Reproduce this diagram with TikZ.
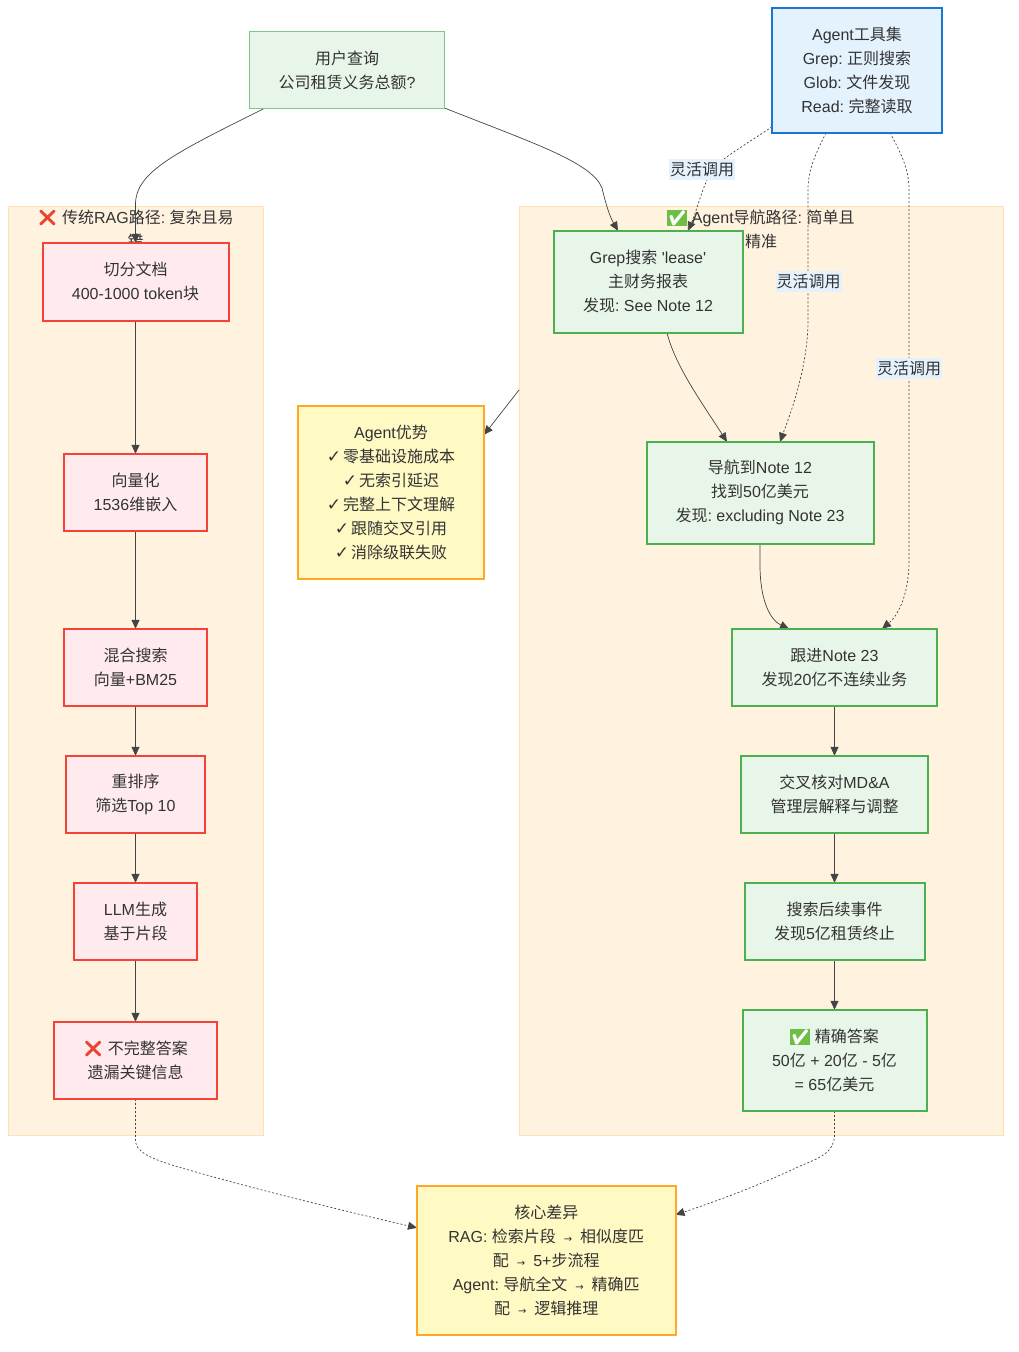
\documentclass[tikz,border=0pt]{standalone}
\usepackage{fontspec}
\usepackage{xcolor}
\setmainfont{Liberation Sans}
\newfontfamily\cjk{Noto Sans CJK SC}
\newfontfamily\emo{Noto Emoji}
\newfontfamily\djv{DejaVu Sans}
\usetikzlibrary{arrows.meta,calc}
\newcommand\cn[1]{{\cjk #1}}
\newcommand\ck{{\djv\fontsize{17}{24}\selectfont ✓\kern-2.5pt}}
\newcommand\arr{\kern3.5pt{\djv\fontsize{10}{24}\selectfont →}\kern3.5pt}
\definecolor{ink}{HTML}{333333}
\definecolor{edgeink}{HTML}{444444}
\definecolor{redmark}{HTML}{E8452F}
\definecolor{greenmark}{HTML}{6DBE45}
\newcommand\nomark{{\emo\color{redmark}❌}}
\newcommand\okmark{\begingroup\setlength{\fboxsep}{0.5pt}\colorbox{greenmark}{\emo\fontsize{15}{15}\selectfont\color{white}✔}\endgroup}
\pgfdeclarelayer{clusters}
\pgfdeclarelayer{edges}
\pgfdeclarelayer{labels}
\pgfsetlayers{clusters,edges,labels,main}
\tikzset{
  x=1pt,y=-1pt,
  every node/.style={font=\fontsize{16}{24}\selectfont\frenchspacing,text=ink,align=center,inner sep=0pt},
  greenbox/.style={fill=gfill,draw=gstroke,line width=2pt},
  lightbox/.style={fill=gfill,draw=glight,line width=1pt},
  redbox/.style={fill=rfill,draw=rstroke,line width=2pt},
  bluebox/.style={fill=bfill,draw=bstroke,line width=2pt},
  yellowbox/.style={fill=yfill,draw=ystroke,line width=2pt},
  cluster/.style={fill=cfill,draw=cstroke,line width=1pt},
  flow/.style={draw=edgeink,line width=0.7pt,-{Triangle[length=9pt,width=8pt]}},
  dotflow/.style={flow,dash pattern=on 2pt off 2pt},
  calllabel/.style={fill=bfill,inner xsep=1pt,inner ysep=0pt,minimum height=21pt},
  ctitle/.style={anchor=center},
}
\definecolor{gfill}{HTML}{E8F5E9}
\definecolor{gstroke}{HTML}{4CAF50}
\definecolor{glight}{HTML}{81C784}
\definecolor{rfill}{HTML}{FFEBEE}
\definecolor{rstroke}{HTML}{F44336}
\definecolor{bfill}{HTML}{E3F2FD}
\definecolor{bstroke}{HTML}{1976D2}
\definecolor{yfill}{HTML}{FFF9C4}
\definecolor{ystroke}{HTML}{FFA726}
\definecolor{cfill}{HTML}{FFF3E0}
\definecolor{cstroke}{HTML}{FFE0B2}
% \bx{name}{style}{x1}{y1}{x2}{y2}{text}
\newcommand\bx[7]{\node[#2,outer sep=0pt,minimum width=#5pt-#3pt,minimum height=#6pt-#4pt] (#1) at ({(#3+#5)/2},{(#4+#6)/2-0.2}) {#7};}
\begin{document}
\begin{tikzpicture}
\useasboundingbox (0,0) rectangle (1019,1352);
% nodes
\bx{user}{lightbox}{249.5}{32}{444.5}{109}{\cn{用户查询}\\\cn{公司租赁义务总额}?}
\bx{tools}{bluebox}{772}{8}{942}{133}{Agent\cn{工具集}\\Grep: \cn{正则搜索}\\Glob: \cn{文件发现}\\Read: \cn{完整读取}}
\bx{cut}{redbox}{42.5}{243}{228.5}{321}{\cn{切分文档}\\400-1000 token\cn{块}}
\bx{vec}{redbox}{64}{454}{207}{531}{\cn{向量化}\\1536\cn{维嵌入}}
\bx{hyb}{redbox}{64}{629}{207}{706}{\cn{混合搜索}\\\cn{向量}+BM25}
\bx{rer}{redbox}{66}{756}{205}{833}{\cn{重排序}\\\cn{筛选}Top 10}
\bx{llm}{redbox}{74}{883}{197}{960}{LLM\cn{生成}\\\cn{基于片段}}
\bx{bad}{redbox}{54}{1022}{217}{1099}{\nomark{} \cn{不完整答案}\\\cn{遗漏关键信息}}
\bx{grep}{greenbox}{553.5}{231}{742.5}{333}{Grep\cn{搜索} \textquotesingle lease\textquotesingle\\\cn{主财务报表}\\\cn{发现}: See Note 12}
\bx{nav}{greenbox}{646.5}{442}{873.5}{544}{\cn{导航到}Note 12\\\cn{找到}50\cn{亿美元}\\\cn{发现}: excluding Note 23}
\bx{fol}{greenbox}{732}{629}{937}{706}{\cn{跟进}Note 23\\\cn{发现}20\cn{亿不连续业务}}
\bx{mda}{greenbox}{741}{756}{928}{833}{\cn{交叉核对}MD\&A\\\cn{管理层解释与调整}}
\bx{sea}{greenbox}{744.5}{883}{924.5}{960}{\cn{搜索后续事件}\\\cn{发现}5\cn{亿租赁终止}}
\bx{ans}{greenbox}{742.5}{1010}{926.5}{1111}{\okmark{} \cn{精确答案}\\50\cn{亿} + 20\cn{亿} - 5\cn{亿}\\= 65\cn{亿美元}}
\bx{adv}{yellowbox}{298}{406}{484}{579}{Agent\cn{优势}\\\ck{} \cn{零基础设施成本}\\\ck{} \cn{无索引延迟}\\\ck{} \cn{完整上下文理解}\\\ck{} \cn{跟随交叉引用}\\\ck{} \cn{消除级联失败}}
\bx{core}{yellowbox}{417}{1186}{675.5}{1335}{\cn{核心差异}\\RAG: \cn{检索片段} \arr{} \cn{相似度匹}\\\cn{配} \arr{} 5+\cn{步流程}\\Agent: \cn{导航全文} \arr{} \cn{精确匹}\\\cn{配} \arr{} \cn{逻辑推理}}
% clusters
\begin{pgfonlayer}{clusters}
\bx{ragc}{cluster}{8}{207}{263.5}{1136}{}
\bx{agc}{cluster}{519}{207}{1003}{1136}{}
\node[ctitle] (ragt) at (135.5,229) {\nomark{} \cn{传统}RAG\cn{路径}: \cn{复杂且易}\\\cn{错}};
\node[ctitle] (agt) at (761,229) {\okmark{} Agent\cn{导航路径}: \cn{简单且}\\\cn{精准}};
\end{pgfonlayer}
% edges
\begin{pgfonlayer}{edges}
\draw[flow] ([xshift=14pt]user.south west) .. controls (175,153) and (135,172) .. (135.5,205) -- (135.5,243 |- cut.north);
\draw[flow] (445,108 -| user.east) .. controls (530,142) and (592,162) .. (602,188) .. controls (606,205) and (610,217) .. ([xshift=64.5pt]grep.north west);
\draw[dotflow] ([yshift=6pt]tools.south west) .. controls (745,145) and (722,158) .. (712,170) .. controls (703,185) and (697,210) .. ([xshift=134.5pt]grep.north west);
\draw[dotflow] ([xshift=54pt]tools.south west) .. controls (815,155) and (808,170) .. (808,190) -- (808,320) .. controls (808,370) and (788,420) .. ([xshift=133.5pt]nav.north west);
\draw[dotflow] ([xshift=118pt]tools.south west) .. controls (902,155) and (909,170) .. (909,190) -- (909,560) .. controls (909,600) and (895,618) .. ([xshift=150pt]fol.north west);
\draw[flow] ([xshift=113.5pt]grep.south west) .. controls (675,365) and (700,400) .. ([xshift=80.5pt]nav.north west);
\draw[flow] (760,544 |- nav.south) -- (760,565) .. controls (760,600) and (770,620) .. ([xshift=57pt]fol.north west);
\draw[flow] (cut) -- (vec);
\draw[flow] (vec) -- (hyb);
\draw[flow] (hyb) -- (rer);
\draw[flow] (rer) -- (llm);
\draw[flow] (llm) -- (bad);
\draw[flow] (fol) -- (mda);
\draw[flow] (mda) -- (sea);
\draw[flow] (sea) -- (ans);
\draw[flow] (519,390 -| agc.west) -- ([yshift=-29pt]adv.north east);
\draw[dotflow] (135.5,1100 |- bad.south) -- (135.5,1140) .. controls (135.5,1152) and (150,1158) .. (175,1166) .. controls (250,1188) and (340,1210) .. ([yshift=-42pt]core.north west);
\draw[dotflow] (834.5,1111 |- ans.south) -- (834.5,1135) .. controls (834.5,1152) and (820,1158) .. (800,1166) .. controls (760,1185) and (720,1200) .. ([yshift=-29pt]core.north east);
\end{pgfonlayer}
\begin{pgfonlayer}{labels}
\node[calllabel] (l1) at (702,169.5) {\cn{灵活调用}};
\node[calllabel] (l2) at (808.5,281.5) {\cn{灵活调用}};
\node[calllabel] (l3) at (909,368.5) {\cn{灵活调用}};
\end{pgfonlayer}
\end{tikzpicture}
\end{document}
